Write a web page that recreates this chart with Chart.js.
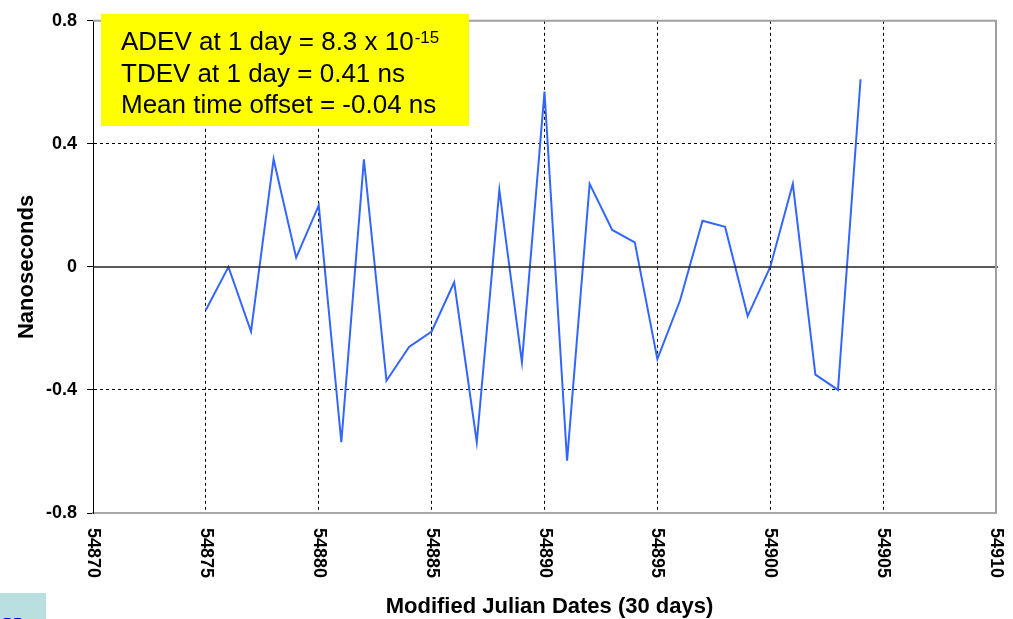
<!DOCTYPE html>
<html>
<head>
<meta charset="utf-8">
<script src="https://cdn.jsdelivr.net/npm/chart.js@4/dist/chart.umd.min.js"></script>
<style>
  body { margin: 0; background: #fff; }
  #wrap { position: relative; width: 1013px; height: 619px; overflow: hidden; }
  #corner { position: absolute; left: 0; top: 593px; width: 46px; height: 26px; background: #b9dfe0; overflow: hidden; }
  #corner span { position: absolute; left: 3px; top: 19px; font: 26px "Liberation Serif", serif; color: #0000ff; }
</style>
</head>
<body>
<div id="wrap">
  <canvas id="myChart" width="1013" height="619"></canvas>
  <div id="corner"><span>H</span></div>
</div>
<script>
const mjd = [54875, 54876, 54877, 54878, 54879, 54880, 54881, 54882, 54883, 54884,
             54885, 54886, 54887, 54888, 54889, 54890, 54891, 54892, 54893, 54894,
             54895, 54896, 54897, 54898, 54899, 54900, 54901, 54902, 54903, 54904]
const offsetNs = [-0.14, 0.00, -0.21, 0.35, 0.03, 0.20, -0.57, 0.35, -0.37, -0.26,
                  -0.21, -0.05, -0.57, 0.25, -0.31, 0.57, -0.63, 0.27, 0.12, 0.08,
                  -0.30, -0.11, 0.15, 0.13, -0.16, 0.00, 0.27, -0.35, -0.40, 0.61]
const yTicks = [-0.8, -0.4, 0, 0.4, 0.8]
const statLines = ['ADEV at 1 day = 8.3 x 10', 'TDEV at 1 day = 0.41 ns', 'Mean time offset = -0.04 ns']
const adevExp = '-15'

const FONT = '"Liberation Sans", Arial, sans-serif'

// frame, zero line, rotated x labels, axis titles and the yellow stats box
const decor = {
  id: 'decor',
  afterDatasetsDraw(chart) {
    const c = chart.ctx
    const a = chart.chartArea
    const xs = chart.scales.x
    const ys = chart.scales.y
    c.save()

    // zero line
    const y0 = ys.getPixelForValue(0)
    c.strokeStyle = '#222'
    c.lineWidth = 1.5
    c.beginPath()
    c.moveTo(a.left, y0)
    c.lineTo(a.right + 2, y0)
    c.stroke()

    // top + right border (grey)
    c.strokeStyle = '#a0a0a0'
    c.lineWidth = 2
    c.beginPath()
    c.moveTo(a.left, a.top)
    c.lineTo(a.right, a.top)
    c.lineTo(a.right, a.bottom)
    c.stroke()

    // x tick labels, turned clockwise
    c.fillStyle = '#000'
    c.font = 'bold 18px ' + FONT
    c.textAlign = 'left'
    c.textBaseline = 'middle'
    xs.ticks.forEach(t => {
      const px = xs.getPixelForValue(t.value)
      c.save()
      c.translate(px, a.bottom + 15)
      c.rotate(Math.PI / 2)
      c.fillText(String(t.value), 0, 0)
      c.restore()
    })

    // axis titles
    c.font = 'bold 22px ' + FONT
    c.textAlign = 'center'
    c.textBaseline = 'alphabetic'
    c.fillText('Modified Julian Dates (30 days)', (a.left + a.right) / 2 + 5, 613)
    c.save()
    c.translate(33, (a.top + a.bottom) / 2)
    c.rotate(-Math.PI / 2)
    c.fillText('Nanoseconds', 0, 0)
    c.restore()

    // stats box
    c.fillStyle = '#ffff00'
    c.fillRect(101, 14, 368, 112)
    c.fillStyle = '#000'
    c.textAlign = 'left'
    c.font = '26px ' + FONT
    statLines.forEach((s, i) => c.fillText(s, 121, 50 + i * 31.7))
    const w = c.measureText(statLines[0]).width
    c.font = '17px ' + FONT
    c.fillText(adevExp, 121 + w + 1, 43)

    c.restore()
  }
}

new Chart(document.getElementById('myChart'), {
  type: 'line',
  data: {
    datasets: [{
      label: 'Time offset',
      data: mjd.map((d, i) => ({ x: d, y: offsetNs[i] })),
      borderColor: '#3366ff',
      borderWidth: 2,
      pointRadius: 0,
      tension: 0,
      fill: false
    }]
  },
  options: {
    responsive: false,
    animation: false,
    layout: { padding: { top: 14, right: 17, left: 0, bottom: 0 } },
    plugins: {
      legend: { display: false },
      tooltip: { enabled: false }
    },
    scales: {
      x: {
        type: 'linear',
        min: 54870,
        max: 54910,
        ticks: { stepSize: 5, display: false },
        grid: {
          color: ctx => (ctx.tick.value === 54870 || ctx.tick.value === 54910) ? 'transparent' : '#000',
          lineWidth: 1,
          drawTicks: false
        },
        border: { color: '#a8a8a8', width: 2, dash: [3, 3] },
        afterFit: scale => { scale.height = 106 }
      },
      y: {
        min: -0.8,
        max: 0.8,
        afterBuildTicks: scale => { scale.ticks = yTicks.map(v => ({ value: v })) },
        ticks: {
          color: '#000',
          font: { family: FONT, size: 18, weight: 'bold' },
          padding: 10,
          callback: v => String(v)
        },
        grid: {
          color: ctx => (ctx.tick.value === 0 || Math.abs(ctx.tick.value) === 0.8) ? 'transparent' : '#000',
          lineWidth: 1,
          tickLength: 6,
          tickColor: '#000',
          tickBorderDash: []
        },
        border: { color: '#000', width: 1, dash: [3, 3] },
        afterFit: scale => { scale.width = 93 }
      }
    }
  },
  plugins: [decor]
});
</script>
</body>
</html>
